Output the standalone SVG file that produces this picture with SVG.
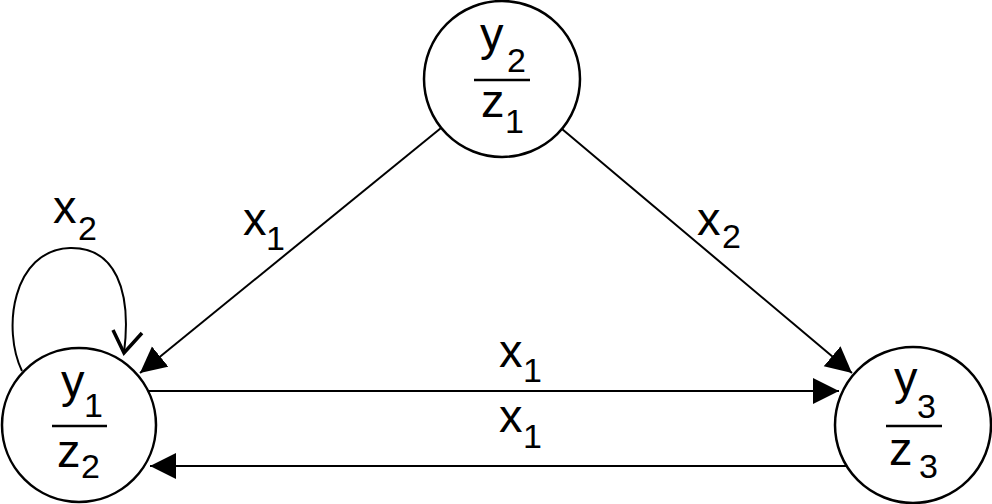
<svg xmlns="http://www.w3.org/2000/svg" width="992" height="504" viewBox="0 0 992 504">
<style>
.node{fill:#fff;stroke:#000;stroke-width:2.5}
.edge{fill:none;stroke:#000;stroke-width:2}
.bar{stroke:#000;stroke-width:2.5}
.t{font-family:"Liberation Sans",Arial,sans-serif;font-size:47px;fill:#000}
.s{font-family:"Liberation Sans",Arial,sans-serif;font-size:34px;fill:#000}
</style>
<defs>
<marker id="arr" markerUnits="userSpaceOnUse" markerWidth="28" markerHeight="28" refX="26" refY="13" orient="auto" viewBox="0 0 28 28">
<path d="M0,0 L26,13 L0,26 z" fill="#000"/>
</marker>
</defs>
<rect width="992" height="504" fill="#fff"/>
<g id="connectors">
<line class="edge" x1="441" y1="128" x2="140" y2="373" marker-end="url(#arr)"/>
<line class="edge" x1="562" y1="129" x2="852" y2="373" marker-end="url(#arr)"/>
<line class="edge" x1="149" y1="391" x2="839" y2="391" marker-end="url(#arr)"/>
<line class="edge" x1="847" y1="466" x2="150" y2="466" marker-end="url(#arr)"/>
<path class="edge" d="M22,371 C2,330 12,250 70,248 C115,247 132,290 124,353"/>
<polyline points="113,330 124,353 142,333" fill="none" stroke="#000" stroke-width="3.5"/>
<text class="t" x="243" y="235">x</text><text class="s" x="266" y="250">1</text>
<text class="t" x="697" y="235">x</text><text class="s" x="722" y="248">2</text>
<text class="t" x="499" y="367">x</text><text class="s" x="523" y="382">1</text>
<text class="t" x="499" y="432">x</text><text class="s" x="523" y="448">1</text>
<text class="t" x="53" y="223">x</text><text class="s" x="78" y="240">2</text>
</g>
<g id="node-top">
<circle class="node" cx="502" cy="79" r="78"/>
<text class="t" x="480" y="50">y</text><text class="s" x="507" y="72">2</text>
<line class="bar" x1="474" y1="80" x2="530" y2="80"/>
<text class="t" x="481" y="117">z</text><text class="s" x="505" y="133">1</text>
</g>
<g id="node-left">
<circle class="node" cx="79" cy="425" r="77"/>
<text class="t" x="61" y="397">y</text><text class="s" x="84" y="417">1</text>
<line class="bar" x1="52" y1="426" x2="107" y2="426"/>
<text class="t" x="57" y="467">z</text><text class="s" x="81" y="478">2</text>
</g>
<g id="node-right">
<circle class="node" cx="913" cy="425" r="78"/>
<text class="t" x="894" y="394">y</text><text class="s" x="917" y="418">3</text>
<line class="bar" x1="886" y1="426" x2="942" y2="426"/>
<text class="t" x="889" y="465">z</text><text class="s" x="919" y="478">3</text>
</g>
</svg>
